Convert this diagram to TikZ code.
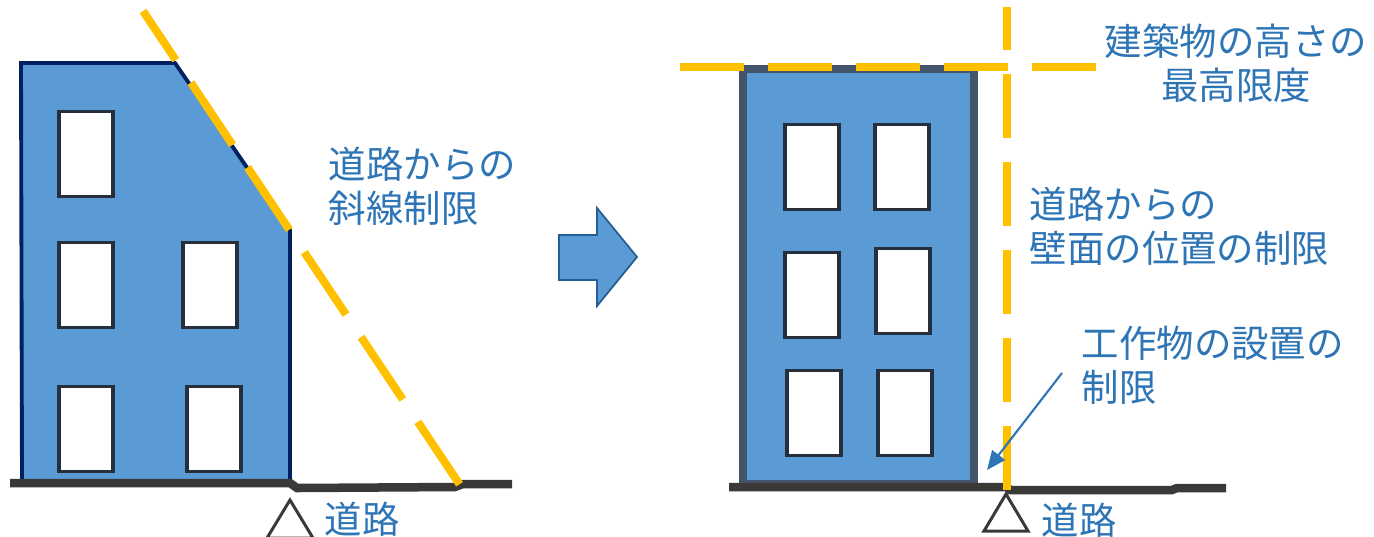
\documentclass[tikz,border=0pt]{standalone}
\usepackage{fontspec}
\setmainfont{Noto Sans CJK JP}
\usepackage{xcolor}
\usetikzlibrary{arrows.meta,positioning}
\definecolor{fbody}{HTML}{5B9BD5}
\definecolor{fnavy}{HTML}{002060}
\definecolor{fslate}{HTML}{44546A}
\definecolor{flimit}{HTML}{FFC000}
\definecolor{fearth}{HTML}{3B3838}
\definecolor{flabel}{HTML}{2E75B6}
\definecolor{fpane}{HTML}{262F3D}
\tikzset{
  pane/.style     = {draw=fpane, line width=1pt, fill=white, rectangle, inner sep=0pt,
                     minimum width=0.54cm, minimum height=0.85cm},
  limitline/.style= {draw=flimit, line width=0.08cm},
  earth/.style    = {draw=fearth, line width=0.085cm},
  marker/.style   = {draw=fearth, line width=0.85pt, fill=white, line join=miter},
  caption/.style  = {text=flabel, inner sep=0pt, align=left,
                     font=\fontsize{10.65pt}{12.5pt}\selectfont},
}
\begin{document}
\begin{tikzpicture}[x=0.01cm,y=-0.01cm]
\useasboundingbox (0,0) rectangle (1374,536);
% ---- left: before, slanted limit ----
\fill[fbody] (22,63) -- (175,63) -- (290,230) -- (290,483) -- (22,483) -- cycle;
\draw[fnavy,line width=1.1pt] (22,483) -- (21,63) -- (175,63) -- (290,230) -- (290,483);
\node[pane] (A1) at (86,154) {};
\node[pane] (A2) at (86,285) {};
\node[pane] (A3) at (210,285) {};
\node[pane] (A4) at (86,429) {};
\node[pane] (A5) at (214,429) {};
\draw[earth] (10,483) -- (290,483) -- (297,488) -- (455,487) -- (463,484) -- (512,484);
\coordinate (L0) at (143,11);
\coordinate (L1) at (460,485);
\draw[limitline,dash pattern=on 0.75cm off 0.27cm,dash phase=0.16cm] (L0) -- (L1);
\draw[marker] (290,500) -- (267,538) -- (313,538) -- cycle;
\node[caption,anchor=west] (road1) at (324,519) {道路};
\node[caption,anchor=west] (slant) at (328,186) {道路からの\\斜線制限};
% ---- block arrow ----
\draw[draw=flabel!80!black,fill=fbody,line width=0.5pt] (559,235) -- (597,235) -- (597,208)
  -- (637,257) -- (597,306) -- (597,280) -- (559,280) -- cycle;
% ---- right: after, height and wall limits ----
\draw[fslate,fill=fbody,line width=0.08cm] (743,69) rectangle (974,484);
\node[pane] (B1) at (812,167) {};
\node[pane] (B2) at (902,167) {};
\node[pane] (B3) at (812,295) {};
\node[pane] (B4) at (903,291) {};
\node[pane] (B5) at (814,413) {};
\node[pane] (B6) at (905,413) {};
\draw[earth] (729,487) -- (1007,487) -- (1010,490) -- (1172,490) -- (1177,488) -- (1226,488);
\coordinate (H0) at (680,67);
\coordinate (H1) at (1096,67);
\coordinate (V0) at (1007,490);
\coordinate (V1) at (1007,7);
\draw[limitline,dash pattern=on 0.64cm off 0.24cm] (H0) -- (H1);
\draw[limitline,dash pattern=on 0.64cm off 0.24cm] (V0) -- (V1);
\draw[marker] (1006,494) -- (984,531) -- (1028,531) -- cycle;
\node[caption,anchor=west] (road2) at (1041,520) {道路};
\node[caption,align=center] (height) at (1236,63) {建築物の高さの\\最高限度};
\node[caption,anchor=west] (wall) at (1029,226) {道路からの\\壁面の位置の制限};
\node[caption,anchor=west] (work) at (1081,365) {工作物の設置の\\制限};
\coordinate (P0) at (1062,373);
\coordinate (P1) at (987,470);
\draw[flabel,line width=0.6pt,-{Triangle[length=1.9mm,width=1.6mm]}] (P0) -- (P1);
\end{tikzpicture}
\end{document}
